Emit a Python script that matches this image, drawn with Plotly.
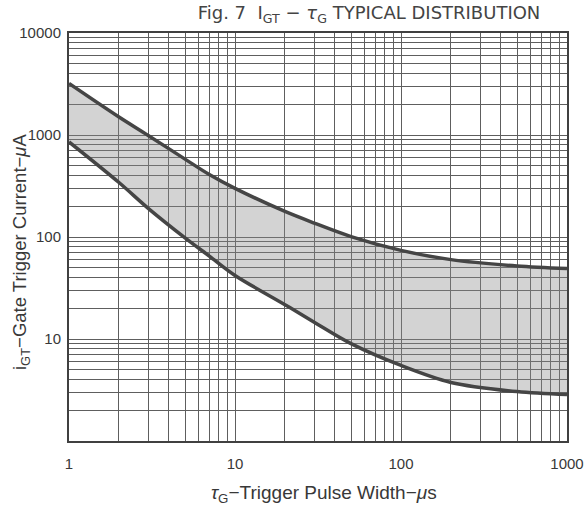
import plotly.graph_objects as go

# pulse width (us)
tau = [1, 2, 3, 5, 7, 10, 20, 30, 50, 100, 200, 500, 1000]
# upper boundary of IGT (uA)
igt_upper = [3200, 1500, 990, 580, 410, 300, 178, 137, 101, 74, 60, 52, 49]
# lower boundary of IGT (uA)
igt_lower = [855, 342, 191, 98, 65, 42, 21.7, 14.6, 9.0, 5.5, 3.75, 3.05, 2.85]

x_ticks = [m * 10 ** k for k in range(0, 3) for m in range(1, 10)] + [1000]
x_text = [str(v) if v in (1, 10, 100, 1000) else "" for v in x_ticks]
y_ticks = [m * 10 ** k for k in range(0, 4) for m in range(1, 10)] + [10000]
y_text = [str(v) if v in (10, 100, 1000, 10000) else "" for v in y_ticks]

line_col = "#454545"
grid_col = "#5e5e5e"
txt_col = "#383838"
font_fam = "Liberation Sans, Arial, sans-serif"

fig = go.Figure()
fig.add_trace(go.Scatter(x=tau, y=igt_lower, mode="lines",
                         line=dict(color=line_col, width=3.5, shape="spline", smoothing=0.9),
                         showlegend=False, hoverinfo="skip"))
fig.add_trace(go.Scatter(x=tau, y=igt_upper, mode="lines", fill="tonexty",
                         fillcolor="rgba(140,140,140,0.38)",
                         line=dict(color=line_col, width=3.5, shape="spline", smoothing=0.9),
                         showlegend=False, hoverinfo="skip"))

fig.update_layout(
    width=587, height=511,
    margin=dict(l=69, r=20, t=33, b=70),
    paper_bgcolor="white", plot_bgcolor="white",
    font=dict(family=font_fam, size=15, color=txt_col),
    title=dict(text="Fig. 7  I<sub>GT</sub> − <i>τ</i><sub>G</sub> TYPICAL DISTRIBUTION",
               x=369 / 587, xanchor="center", xref="container", y=1 - 13 / 511, yanchor="middle",
               font=dict(family="DejaVu Sans, sans-serif", size=18, color="#444444")),
    annotations=[
        dict(text="<i>τ</i><sub>G</sub>−Trigger Pulse Width−<i>μ</i>s",
             xref="paper", yref="paper", x=(324 - 69) / 498, y=-(494 - 441) / 408,
             xanchor="center", yanchor="middle", showarrow=False,
             font=dict(size=19, color=txt_col)),
        dict(text="i<sub>GT</sub>−Gate Trigger Current−<i>μ</i>A",
             xref="paper", yref="paper", x=-(69 - 21) / 498, y=(441 - 252) / 408,
             xanchor="center", yanchor="middle", textangle=-90, showarrow=False,
             font=dict(size=18.5, color=txt_col)),
    ],
)
fig.update_xaxes(type="log", range=[0, 3], tickvals=x_ticks, ticktext=x_text,
                 showgrid=True, gridcolor=grid_col, gridwidth=1,
                 showline=True, linecolor="#404040", linewidth=2, mirror=True,
                 ticks="", ticklabelstandoff=8, zeroline=False, automargin=False)
fig.update_yaxes(type="log", range=[0, 4], tickvals=y_ticks, ticktext=y_text,
                 showgrid=True, gridcolor=grid_col, gridwidth=1,
                 showline=True, linecolor="#404040", linewidth=2, mirror=True,
                 ticks="", ticklabelstandoff=3, zeroline=False, automargin=False)

fig.write_html("out.html")
